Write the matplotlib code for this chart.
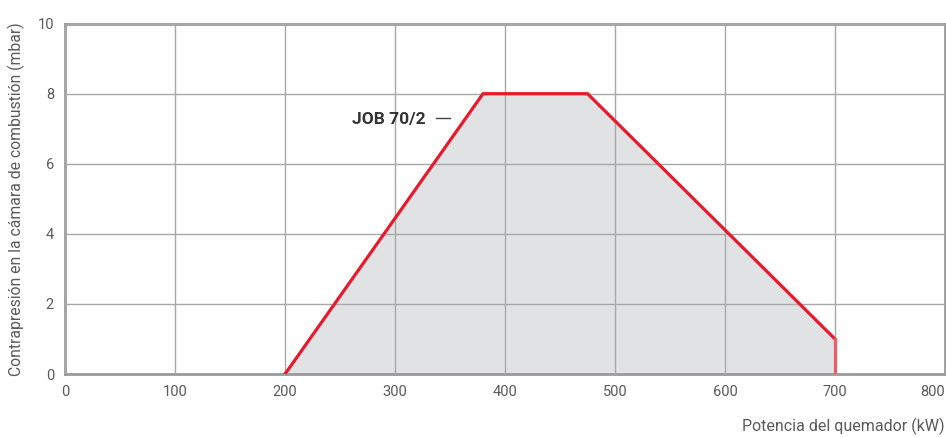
import matplotlib
matplotlib.use("Agg")
import matplotlib.pyplot as plt

# Working range of the burner: power (kW) vs. combustion chamber back-pressure (mbar)
power_kw = [200, 380, 475, 700, 700]
pressure_mbar = [0, 8, 8, 1, 0]

x_ticks = [0, 100, 200, 300, 400, 500, 600, 700, 800]
y_ticks = [0, 2, 4, 6, 8, 10]

model_label = "JOB 70/2"
x_label = "Potencia del quemador (kW)"
y_label = "Contrapresión en la cámara de combustión (mbar)"

plt.rcParams["font.family"] = ["Roboto", "DejaVu Sans"]

fig = plt.figure(figsize=(9.46, 4.37), dpi=100)
ax = fig.add_axes([0.0687, 0.144, 0.9303, 0.802])

ax.set_xlim(0, 800)
ax.set_ylim(0, 10)

# Shaded operating area and its outline
ax.fill(power_kw, pressure_mbar, color="#e1e2e4", zorder=1, lw=0)
ax.plot(power_kw[:4], pressure_mbar[:4], color="#e8192c", lw=2.3,
        solid_joinstyle="miter", zorder=3)
ax.plot(power_kw[3:], pressure_mbar[3:], color="#ee5a68", lw=2.3, zorder=3)

ax.set_axisbelow(False)
ax.grid(True, color="#a8a8a8", lw=1.0, zorder=2)

for s in ax.spines.values():
    s.set_color("#9a9a9a")
    s.set_linewidth(2.0)

text_color = "#5a5a5a"
ax.set_xticks(x_ticks, [str(v) for v in x_ticks])
ax.set_yticks(y_ticks, [str(v) for v in y_ticks])
ax.tick_params(length=0, labelsize=10.5, labelcolor=text_color, pad=8)
ax.xaxis.get_major_ticks()[-1].label1.set_horizontalalignment("right")

ax.set_ylabel(y_label, fontsize=11.3, color=text_color, labelpad=9)
ax.set_xlabel(x_label, fontsize=11.5, color=text_color)
ax.xaxis.set_label_coords(1.0, -0.150)
ax.xaxis.label.set_horizontalalignment("right")
ax.xaxis.label.set_verticalalignment("center")

# Model tag with leader dash
ax.text(261, 7.27, model_label, fontsize=12.5, fontweight="bold", color="#333333",
        va="center", ha="left", zorder=4)
ax.plot([337, 350], [7.3, 7.3], color="#444444", lw=1.0, zorder=4)

fig.savefig("out.png", dpi=100)
